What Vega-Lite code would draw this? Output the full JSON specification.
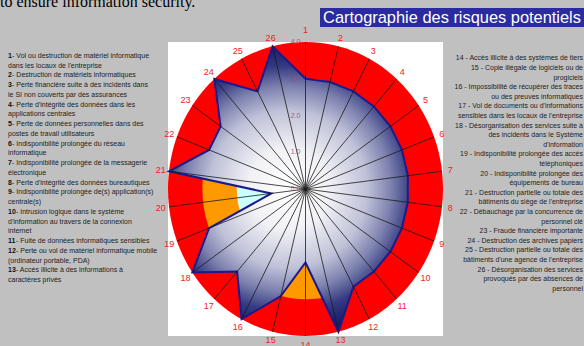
{
  "$schema": "https://vega.github.io/schema/vega-lite/v6.json",
  "width": 275,
  "height": 294,
  "autosize": {"type": "none"},
  "padding": {"left": 168, "top": 42, "right": 141, "bottom": 10},
  "background": "#c0c0c0",
  "config": {
    "view": {"fill": "#ffffff", "stroke": null},
    "axis": {"disable": true},
    "legend": {"disable": true},
    "text": {"font": "Liberation Sans"}
  },
  "datasets": {
    "axes": [
      {"k": 1, "v": 3}, {"k": 2, "v": 3}, {"k": 3, "v": 3}, {"k": 4, "v": 3},
      {"k": 5, "v": 3}, {"k": 6, "v": 3}, {"k": 7, "v": 3}, {"k": 8, "v": 3},
      {"k": 9, "v": 3}, {"k": 10, "v": 3}, {"k": 11, "v": 3}, {"k": 12, "v": 3},
      {"k": 13, "v": 4}, {"k": 14, "v": 2}, {"k": 15, "v": 3}, {"k": 16, "v": 4},
      {"k": 17, "v": 3}, {"k": 18, "v": 4}, {"k": 19, "v": 3}, {"k": 20, "v": 1},
      {"k": 21, "v": 4}, {"k": 22, "v": 3}, {"k": 23, "v": 3}, {"k": 24, "v": 4},
      {"k": 25, "v": 3}, {"k": 26, "v": 4}
    ],
    "rings": [
      {"r": 4, "c": "#ff0000"},
      {"r": 3, "c": "#ff9900"},
      {"r": 2, "c": "#ccffff"}
    ],
    "ticks": [
      {"v": 0, "t": "0.0"}, {"v": 1, "t": "1.0"}, {"v": 2, "t": "2.0"},
      {"v": 3, "t": "3.0"}, {"v": 4, "t": "4.0"}
    ],
    "left": [
      {"line": 1, "num": "1", "text": "1 - Vol ou destruction de matériel informatique"},
      {"line": 2, "num": "", "text": "dans les locaux de l'entreprise"},
      {"line": 3, "num": "2", "text": "2 - Destruction de matériels informatiques"},
      {"line": 4, "num": "3", "text": "3 - Perte financière suite à des incidents dans"},
      {"line": 5, "num": "", "text": "le SI non couverts par des assurances"},
      {"line": 6, "num": "4", "text": "4 - Perte d'intégrité des données dans les"},
      {"line": 7, "num": "", "text": "applications centrales"},
      {"line": 8, "num": "5", "text": "5 - Perte de données personnelles dans des"},
      {"line": 9, "num": "", "text": "postes de travail utilisateurs"},
      {"line": 10, "num": "6", "text": "6 - Indisponibilité prolongée du réseau"},
      {"line": 11, "num": "", "text": "informatique"},
      {"line": 12, "num": "7", "text": "7 - Indisponibilité prolongée de la messagerie"},
      {"line": 13, "num": "", "text": "électronique"},
      {"line": 14, "num": "8", "text": "8 - Perte d'intégrité des données bureautiques"},
      {"line": 15, "num": "9", "text": "9 - Indisponibilité prolongée de(s) application(s)"},
      {"line": 16, "num": "", "text": "centrale(s)"},
      {"line": 17, "num": "10", "text": "10 - Intrusion logique dans le système"},
      {"line": 18, "num": "", "text": "d'information au travers de la connexion"},
      {"line": 19, "num": "", "text": "internet"},
      {"line": 20, "num": "11", "text": "11 - Fuite de données informatiques sensibles"},
      {"line": 21, "num": "12", "text": "12 - Perte ou vol de matériel informatique mobile"},
      {"line": 22, "num": "", "text": "(ordinateur portable, PDA)"},
      {"line": 23, "num": "13", "text": "13 - Accès illicite à des informations à"},
      {"line": 24, "num": "", "text": "caractères privés"}
    ],
    "right": [
      {"line": 1, "text": "14 - Accès illicite à des systèmes de tiers"},
      {"line": 2, "text": "15 - Copie illégale de logiciels ou de"},
      {"line": 3, "text": "progiciels"},
      {"line": 4, "text": "16 - Impossibilité de récupérer des traces"},
      {"line": 5, "text": "ou des preuves informatiques"},
      {"line": 6, "text": "17 - Vol de documents ou d'informations"},
      {"line": 7, "text": "sensibles dans les locaux de l'entreprise"},
      {"line": 8, "text": "18 - Désorganisation des services suite à"},
      {"line": 9, "text": "des incidents dans le Système"},
      {"line": 10, "text": "d'information"},
      {"line": 11, "text": "19 - Indisponibilité prolongée des accès"},
      {"line": 12, "text": "téléphoniques"},
      {"line": 13, "text": "20 - Indisponibilité prolongée des"},
      {"line": 14, "text": "équipements de bureau"},
      {"line": 15, "text": "21 - Destruction partielle ou totale des"},
      {"line": 16, "text": "bâtiments du siège de l'entreprise"},
      {"line": 17, "text": "22 - Débauchage par la concurrence de"},
      {"line": 18, "text": "personnel clé"},
      {"line": 19, "text": "23 - Fraude financière importante"},
      {"line": 20, "text": "24 - Destruction des archives papiers"},
      {"line": 21, "text": "25 - Destruction partielle ou totale des"},
      {"line": 22, "text": "bâtiments d'une agence de l'entreprise"},
      {"line": 23, "text": "26 - Désorganisation des services"},
      {"line": 24, "text": "provoqués par des absences de"},
      {"line": 25, "text": "personnel"}
    ]
  },
  "resolve": {"scale": {"y": "independent"}},
  "layer": [
    {
      "layer": [
        {
          "data": {"name": "rings"},
          "transform": [{"calculate": "0", "as": "o"}],
          "mark": {
            "type": "point",
            "shape": "M0,-1A0.9354,1 0 1,1 0,1A0.9354,1 0 1,1 0,-1Z",
            "filled": true,
            "opacity": 1,
            "strokeWidth": 0
          },
          "encoding": {
            "x": {"field": "o", "type": "quantitative", "scale": {"domain": [-4, 4]}},
            "y": {"field": "o", "type": "quantitative", "scale": {"domain": [-4, 4]}},
            "size": {"field": "r", "type": "quantitative", "scale": {"type": "pow", "exponent": 2, "domain": [0, 4], "range": [0, 86436]}},
            "fill": {"field": "c", "type": "nominal", "scale": null}
          }
        },
        {
          "data": {"name": "axes"},
          "transform": [
            {"calculate": "(datum.k - 1) * 2 * PI / 26", "as": "a"},
            {"calculate": "datum.v * sin(datum.a)", "as": "px"},
            {"calculate": "datum.v * cos(datum.a)", "as": "py"}
          ],
          "mark": {
            "type": "line",
            "interpolate": "linear-closed",
            "fill": {
              "gradient": "radial",
              "x1": 0.5, "y1": 0.5, "r1": 0,
              "x2": 0.5, "y2": 0.5, "r2": 0.5,
              "stops": [
                {"offset": 0, "color": "#ffffff"},
                {"offset": 0.28, "color": "#f2f2f6"},
                {"offset": 0.55, "color": "#bfc2d8"},
                {"offset": 0.72, "color": "#7d81ae"},
                {"offset": 0.86, "color": "#353b82"},
                {"offset": 1, "color": "#181c68"}
              ]
            },
            "stroke": "#1a1a8c",
            "strokeWidth": 2,
            "strokeJoin": "miter"
          },
          "encoding": {
            "x": {"field": "px", "type": "quantitative", "scale": {"domain": [-4, 4]}},
            "y": {"field": "py", "type": "quantitative", "scale": {"domain": [-4, 4]}},
            "order": {"field": "k", "type": "quantitative"}
          }
        },
        {
          "data": {"name": "axes"},
          "transform": [
            {"calculate": "(datum.k - 1) * 2 * PI / 26", "as": "a"},
            {"calculate": "0", "as": "o"},
            {"calculate": "4 * sin(datum.a)", "as": "sx"},
            {"calculate": "4 * cos(datum.a)", "as": "sy"}
          ],
          "mark": {"type": "rule", "color": "#1a1a1a", "strokeWidth": 0.8},
          "encoding": {
            "x": {"field": "o", "type": "quantitative", "scale": {"domain": [-4, 4]}},
            "y": {"field": "o", "type": "quantitative", "scale": {"domain": [-4, 4]}},
            "x2": {"field": "sx"},
            "y2": {"field": "sy"}
          }
        },
        {
          "data": {"name": "axes"},
          "transform": [
            {"calculate": "(datum.k - 1) * 2 * PI / 26", "as": "a"},
            {"calculate": "4.24 * sin(datum.a)", "as": "lx"},
            {"calculate": "4.24 * cos(datum.a)", "as": "ly"},
            {"filter": "datum.k != 1"}
          ],
          "mark": {"type": "text", "color": "#ee1c1c", "fontSize": 9, "align": "center", "baseline": "middle"},
          "encoding": {
            "x": {"field": "lx", "type": "quantitative", "scale": {"domain": [-4, 4]}},
            "y": {"field": "ly", "type": "quantitative", "scale": {"domain": [-4, 4]}},
            "text": {"field": "k", "type": "nominal"}
          }
        },
        {
          "data": {"name": "axes"},
          "transform": [
            {"filter": "datum.k == 1"},
            {"calculate": "0", "as": "lx"},
            {"calculate": "4.24", "as": "ly"}
          ],
          "mark": {"type": "text", "color": "#ee1c1c", "fontSize": 9, "align": "center", "baseline": "middle", "dy": -3},
          "encoding": {
            "x": {"field": "lx", "type": "quantitative", "scale": {"domain": [-4, 4]}},
            "y": {"field": "ly", "type": "quantitative", "scale": {"domain": [-4, 4]}},
            "text": {"field": "k", "type": "nominal"}
          }
        },
        {
          "data": {"name": "ticks"},
          "transform": [{"calculate": "0", "as": "o"}],
          "mark": {"type": "text", "color": "#a04878", "fontSize": 7, "align": "right", "baseline": "middle", "dx": -5, "opacity": 0.85},
          "encoding": {
            "x": {"field": "o", "type": "quantitative", "scale": {"domain": [-4, 4]}},
            "y": {"field": "v", "type": "quantitative", "scale": {"domain": [-4, 4]}},
            "text": {"field": "t", "type": "nominal"}
          }
        },
        {
          "data": {"values": [{"title": "Cartographie des risques potentiels"}]},
          "transform": [
            {"calculate": "0.422", "as": "bx1"},
            {"calculate": "8.2", "as": "bx2"},
            {"calculate": "4.925", "as": "by1"},
            {"calculate": "4.408", "as": "by2"},
            {"calculate": "4.262", "as": "tx"},
            {"calculate": "4.66", "as": "ty"}
          ],
          "layer": [
            {
              "mark": {"type": "rect", "color": "#2b2ba0"},
              "encoding": {
                "x": {"field": "bx1", "type": "quantitative", "scale": {"domain": [-4, 4]}},
                "x2": {"field": "bx2"},
                "y": {"field": "by1", "type": "quantitative", "scale": {"domain": [-4, 4]}},
                "y2": {"field": "by2"}
              }
            },
            {
              "mark": {"type": "text", "color": "#ffffff", "fontSize": 16.4, "align": "center", "baseline": "middle"},
              "encoding": {
                "x": {"field": "tx", "type": "quantitative", "scale": {"domain": [-4, 4]}},
                "y": {"field": "ty", "type": "quantitative", "scale": {"domain": [-4, 4]}},
                "text": {"field": "title", "type": "nominal"}
              }
            }
          ]
        },
        {
          "data": {"values": [{"t": "to ensure information security."}]},
          "transform": [
            {"calculate": "-8.887", "as": "tx"},
            {"calculate": "4.939", "as": "ty"}
          ],
          "mark": {"type": "text", "color": "#000000", "font": "Liberation Serif", "fontSize": 16, "align": "left", "baseline": "alphabetic"},
          "encoding": {
            "x": {"field": "tx", "type": "quantitative", "scale": {"domain": [-4, 4]}},
            "y": {"field": "ty", "type": "quantitative", "scale": {"domain": [-4, 4]}},
            "text": {"field": "t", "type": "nominal"}
          }
        }
      ]
    },
    {
      "data": {"name": "left"},
      "transform": [
        {"calculate": "-8.655", "as": "tx"},
        {"calculate": "slice(datum.text, length(datum.num))", "as": "rest"}
      ],
      "encoding": {
        "x": {"field": "tx", "type": "quantitative", "scale": {"domain": [-4, 4]}},
        "y": {"field": "line", "type": "quantitative", "scale": {"domain": [-0.437, 29.748], "reverse": true}}
      },
      "layer": [
        {
          "transform": [{"filter": "datum.num == ''"}],
          "mark": {"type": "text", "color": "#222222", "fontSize": 7, "align": "left", "baseline": "middle"},
          "encoding": {"text": {"field": "text", "type": "nominal"}}
        },
        {
          "transform": [{"filter": "datum.num != ''"}],
          "mark": {"type": "text", "color": "#111111", "fontSize": 7, "fontWeight": "bold", "align": "left", "baseline": "middle"},
          "encoding": {"text": {"field": "num", "type": "nominal"}}
        },
        {
          "transform": [{"filter": "length(datum.num) == 1"}],
          "mark": {"type": "text", "color": "#222222", "fontSize": 7, "align": "left", "baseline": "middle", "dx": 4.1},
          "encoding": {"text": {"field": "rest", "type": "nominal"}}
        },
        {
          "transform": [{"filter": "length(datum.num) == 2"}],
          "mark": {"type": "text", "color": "#222222", "fontSize": 7, "align": "left", "baseline": "middle", "dx": 8},
          "encoding": {"text": {"field": "rest", "type": "nominal"}}
        }
      ]
    },
    {
      "data": {"name": "right"},
      "transform": [{"calculate": "8.073", "as": "tx"}],
      "mark": {"type": "text", "color": "#222222", "fontSize": 7, "align": "right", "baseline": "middle"},
      "encoding": {
        "x": {"field": "tx", "type": "quantitative", "scale": {"domain": [-4, 4]}},
        "y": {"field": "line", "type": "quantitative", "scale": {"domain": [-0.696, 29.897], "reverse": true}},
        "text": {"field": "text", "type": "nominal"}
      }
    }
  ]
}
